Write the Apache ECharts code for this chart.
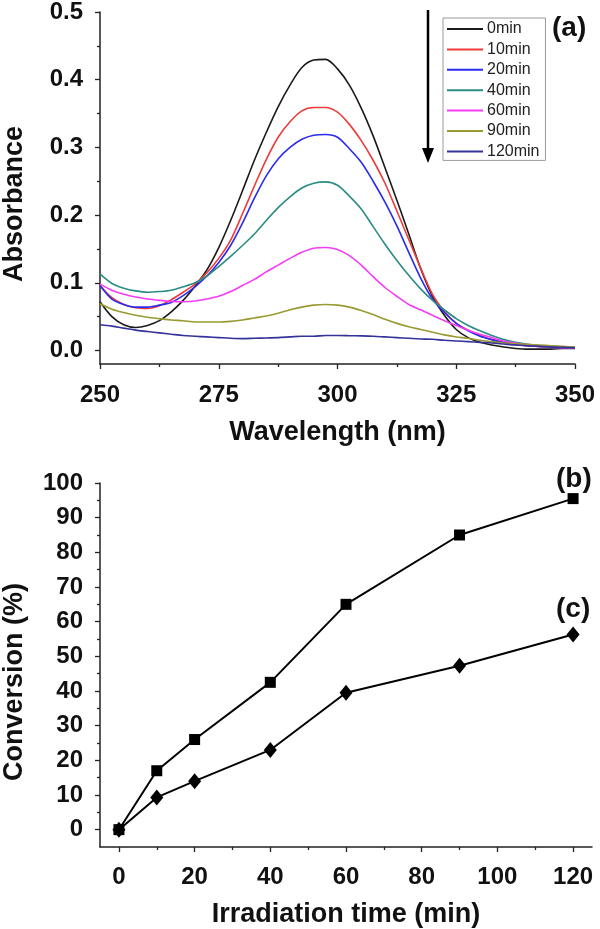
<!DOCTYPE html>
<html>
<head>
<meta charset="utf-8">
<script src="https://cdn.jsdelivr.net/npm/echarts@6/dist/echarts.min.js"></script>
<style>html,body{margin:0;padding:0;background:#fff}#c{width:600px;height:929px}</style>
</head>
<body>
<div id="c"></div>
<script>
// ---- data (panel a) ----
const wavelength = [250,252.5,255,257.5,260,262.5,265,267.5,270,272.5,275,277.5,280,282.5,285,287.5,290,292.5,295,297.5,300,
                    302.5,305,307.5,310,312.5,315,317.5,320,322.5,325,327.5,330,332.5,335,337.5,340,342.5,345,347.5,350];
const abs0min   = [0.072,0.050,0.038,0.034,0.037,0.044,0.057,0.074,0.095,0.119,0.152,0.192,0.236,0.281,0.322,0.360,0.392,0.418,0.429,0.430,0.416,
                   0.392,0.358,0.317,0.270,0.222,0.172,0.121,0.080,0.052,0.031,0.019,0.012,0.008,0.005,0.003,0.002,0.002,0.002,0.003,0.003];
const abs10min  = [0.096,0.078,0.068,0.063,0.062,0.066,0.075,0.086,0.098,0.115,0.136,0.163,0.202,0.243,0.282,0.315,0.338,0.354,0.359,0.359,0.352,
                   0.334,0.310,0.281,0.247,0.206,0.164,0.122,0.083,0.058,0.040,0.030,0.022,0.016,0.012,0.009,0.007,0.006,0.006,0.005,0.005];
const abs20min  = [0.096,0.076,0.068,0.064,0.064,0.067,0.071,0.081,0.094,0.110,0.130,0.155,0.188,0.225,0.258,0.283,0.300,0.312,0.318,0.319,0.315,
                   0.298,0.278,0.250,0.219,0.184,0.145,0.107,0.076,0.056,0.040,0.029,0.021,0.016,0.012,0.009,0.007,0.006,0.005,0.004,0.004];
const abs40min  = [0.113,0.099,0.092,0.088,0.086,0.087,0.089,0.094,0.100,0.110,0.124,0.139,0.155,0.172,0.192,0.211,0.227,0.240,0.247,0.249,0.244,
                   0.228,0.209,0.183,0.157,0.133,0.111,0.091,0.074,0.060,0.047,0.037,0.029,0.022,0.016,0.012,0.009,0.007,0.006,0.005,0.005];
const abs60min  = [0.098,0.089,0.083,0.079,0.076,0.074,0.0725,0.072,0.073,0.076,0.080,0.087,0.096,0.105,0.116,0.126,0.136,0.145,0.151,0.152,0.149,
                   0.140,0.126,0.109,0.093,0.080,0.068,0.060,0.052,0.044,0.037,0.030,0.024,0.019,0.014,0.011,0.008,0.006,0.005,0.004,0.004];
const abs90min  = [0.069,0.061,0.056,0.052,0.049,0.047,0.045,0.044,0.042,0.042,0.042,0.043,0.045,0.048,0.051,0.055,0.060,0.064,0.067,0.068,0.067,
                   0.064,0.059,0.053,0.046,0.040,0.035,0.031,0.027,0.023,0.020,0.018,0.015,0.013,0.011,0.010,0.009,0.008,0.007,0.006,0.005];
const abs120min = [0.038,0.036,0.033,0.030,0.028,0.026,0.024,0.022,0.021,0.020,0.019,0.018,0.0175,0.018,0.0185,0.019,0.020,0.021,0.021,0.022,0.022,
                   0.0218,0.0215,0.021,0.020,0.019,0.018,0.017,0.0165,0.015,0.014,0.013,0.012,0.011,0.0095,0.008,0.007,0.006,0.005,0.0045,0.004];
const curveNames = ['0min','10min','20min','40min','60min','90min','120min'];
const curveColors = ['#1a1a1a','#f03a3a','#2b2bf0','#2a8c84','#f53cf5','#9a9a32','#33339a'];

// ---- data (panels b, c) ----
const times = [0,10,20,40,60,90,120];
const conversionB = [0,17,26,42.5,65,85,95.5];
const conversionC = [0,9.3,14,23,39.5,47.3,56.3];

// ---- ticks ----
const absMajorTicks = [0,0.1,0.2,0.3,0.4,0.5];
const absMinorTicks = [0.05,0.15,0.25,0.35,0.45];
const timeMajorTicks = [0,20,40,60,80,100,120];
const timeMinorTicks = [10,30,50,70,90,110];
const convMajorTicks = [0,10,20,30,40,50,60,70,80,90,100];
const convMinorTicks = [5,15,25,35,45,55,65,75,85,95];

const absCurves = [abs0min,abs10min,abs20min,abs40min,abs60min,abs90min,abs120min];

const FONT = 'Liberation Sans, Arial, Helvetica, sans-serif';
const AX = '#222';
const lblStyle = {fontFamily: FONT, fontWeight: 'bold', fontSize: 24, color: '#111'};
const nameStyle = {fontFamily: FONT, fontWeight: 'bold', fontSize: 27, color: '#111'};

function minorAxis(base, ticks, pos) {
  return Object.assign({}, base, {
    name: '', position: pos,
    axisLine: {show: false, onZero: false},
    axisLabel: {show: false},
    axisTick: {show: true, length: 3, customValues: ticks, lineStyle: {color: AX, width: 1.3}},
    splitLine: {show: false}
  });
}

const yTopBase = {type: 'value', gridIndex: 0, min: -0.02, max: 0.5};
const xBotBase = {type: 'value', gridIndex: 1, min: -5, max: 125};
const yBotBase = {type: 'value', gridIndex: 1, min: -5, max: 100};

const option = {
  animation: false,
  backgroundColor: '#fff',
  grid: [
    {left: 100, top: 12, width: 475, height: 352, outerBoundsMode: 'none', containLabel: false},
    {left: 100, top: 483, width: 492, height: 364, outerBoundsMode: 'none', containLabel: false}
  ],
  xAxis: [
    {type: 'value', gridIndex: 0, min: 250, max: 350, interval: 25, position: 'bottom',
     name: 'Wavelength (nm)', nameLocation: 'middle', nameGap: 55, nameTextStyle: nameStyle,
     axisLine: {onZero: false, lineStyle: {color: AX, width: 1.5}},
     axisTick: {length: 5, lineStyle: {color: AX, width: 1.3}},
     minorTick: {show: true, splitNumber: 2, length: 3, lineStyle: {color: AX, width: 1.3}},
     axisLabel: Object.assign({margin: 19, formatter: v => String(v)}, lblStyle),
     splitLine: {show: false}},
    Object.assign({}, xBotBase, {
     position: 'bottom',
     name: 'Irradiation time (min)', nameLocation: 'middle', nameGap: 54, nameTextStyle: nameStyle,
     axisLine: {onZero: false, lineStyle: {color: AX, width: 1.5}},
     axisTick: {length: 5, customValues: timeMajorTicks, lineStyle: {color: AX, width: 1.3}},
     axisLabel: Object.assign({margin: 18, customValues: timeMajorTicks}, lblStyle),
     splitLine: {show: false}}),
    minorAxis(xBotBase, timeMinorTicks, 'bottom')
  ],
  yAxis: [
    Object.assign({}, yTopBase, {
     position: 'left',
     name: 'Absorbance', nameLocation: 'middle', nameGap: 72,
     nameTextStyle: Object.assign({padding: [0, 32, 0, 0]}, nameStyle),
     axisLine: {onZero: false, lineStyle: {color: AX, width: 1.5}},
     axisTick: {length: 5, customValues: absMajorTicks, lineStyle: {color: AX, width: 1.3}},
     axisLabel: Object.assign({margin: 17, customValues: absMajorTicks, formatter: v => v.toFixed(1)}, lblStyle),
     splitLine: {show: false}}),
    minorAxis(yTopBase, absMinorTicks, 'left'),
    Object.assign({}, yBotBase, {
     position: 'left',
     name: 'Conversion (%)', nameLocation: 'middle', nameGap: 72,
     nameTextStyle: Object.assign({padding: [0, 34, 0, 0]}, nameStyle),
     axisLine: {onZero: false, lineStyle: {color: AX, width: 1.5}},
     axisTick: {length: 5, customValues: convMajorTicks, lineStyle: {color: AX, width: 1.3}},
     axisLabel: Object.assign({margin: 17, customValues: convMajorTicks}, lblStyle),
     splitLine: {show: false}}),
    minorAxis(yBotBase, convMinorTicks, 'left')
  ],
  legend: {
    orient: 'vertical', left: 443, top: 18,
    padding: [3, 6, 1, 4],
    borderColor: '#9a9a9a', borderWidth: 1,
    itemWidth: 36, itemHeight: 2, itemGap: 4.4,
    icon: 'rect',
    data: curveNames,
    textStyle: {fontFamily: FONT, fontSize: 16, color: '#222', lineHeight: 14, padding: [0,0,0,-1]}
  },
  graphic: [
    {type: 'line', shape: {x1: 428, y1: 10, x2: 428, y2: 150}, style: {stroke: '#000', lineWidth: 2.5}},
    {type: 'polygon', shape: {points: [[422, 148], [434, 148], [428, 163]]}, style: {fill: '#000'}},
    {type: 'text', left: 552, top: 14, style: {text: '(a)', font: 'bold 28px ' + FONT, fill: '#111'}},
    {type: 'text', left: 556, top: 465, style: {text: '(b)', font: 'bold 28px ' + FONT, fill: '#111'}},
    {type: 'text', left: 556, top: 595, style: {text: '(c)', font: 'bold 28px ' + FONT, fill: '#111'}}
  ],
  series: curveNames.map((nm, k) => ({
    name: nm, type: 'line', xAxisIndex: 0, yAxisIndex: 0,
    data: wavelength.map((w, i) => [w, absCurves[k][i]]),
    smooth: 0.3, showSymbol: false, symbol: 'none',
    lineStyle: {color: curveColors[k], width: 1.6},
    itemStyle: {color: curveColors[k]}
  })).concat([
    {name: '(b)', type: 'line', xAxisIndex: 1, yAxisIndex: 2,
     data: times.map((t, i) => [t, conversionB[i]]),
     symbol: 'rect', symbolSize: 11,
     lineStyle: {color: '#000', width: 2}, itemStyle: {color: '#000'}},
    {name: '(c)', type: 'line', xAxisIndex: 1, yAxisIndex: 2,
     data: times.map((t, i) => [t, conversionC[i]]),
     symbol: 'diamond', symbolSize: [13, 16],
     lineStyle: {color: '#000', width: 2}, itemStyle: {color: '#000'}}
  ])
};

const chart = echarts.init(document.getElementById('c'), null, {renderer: 'canvas'});
chart.setOption(option);
</script>
</body>
</html>
